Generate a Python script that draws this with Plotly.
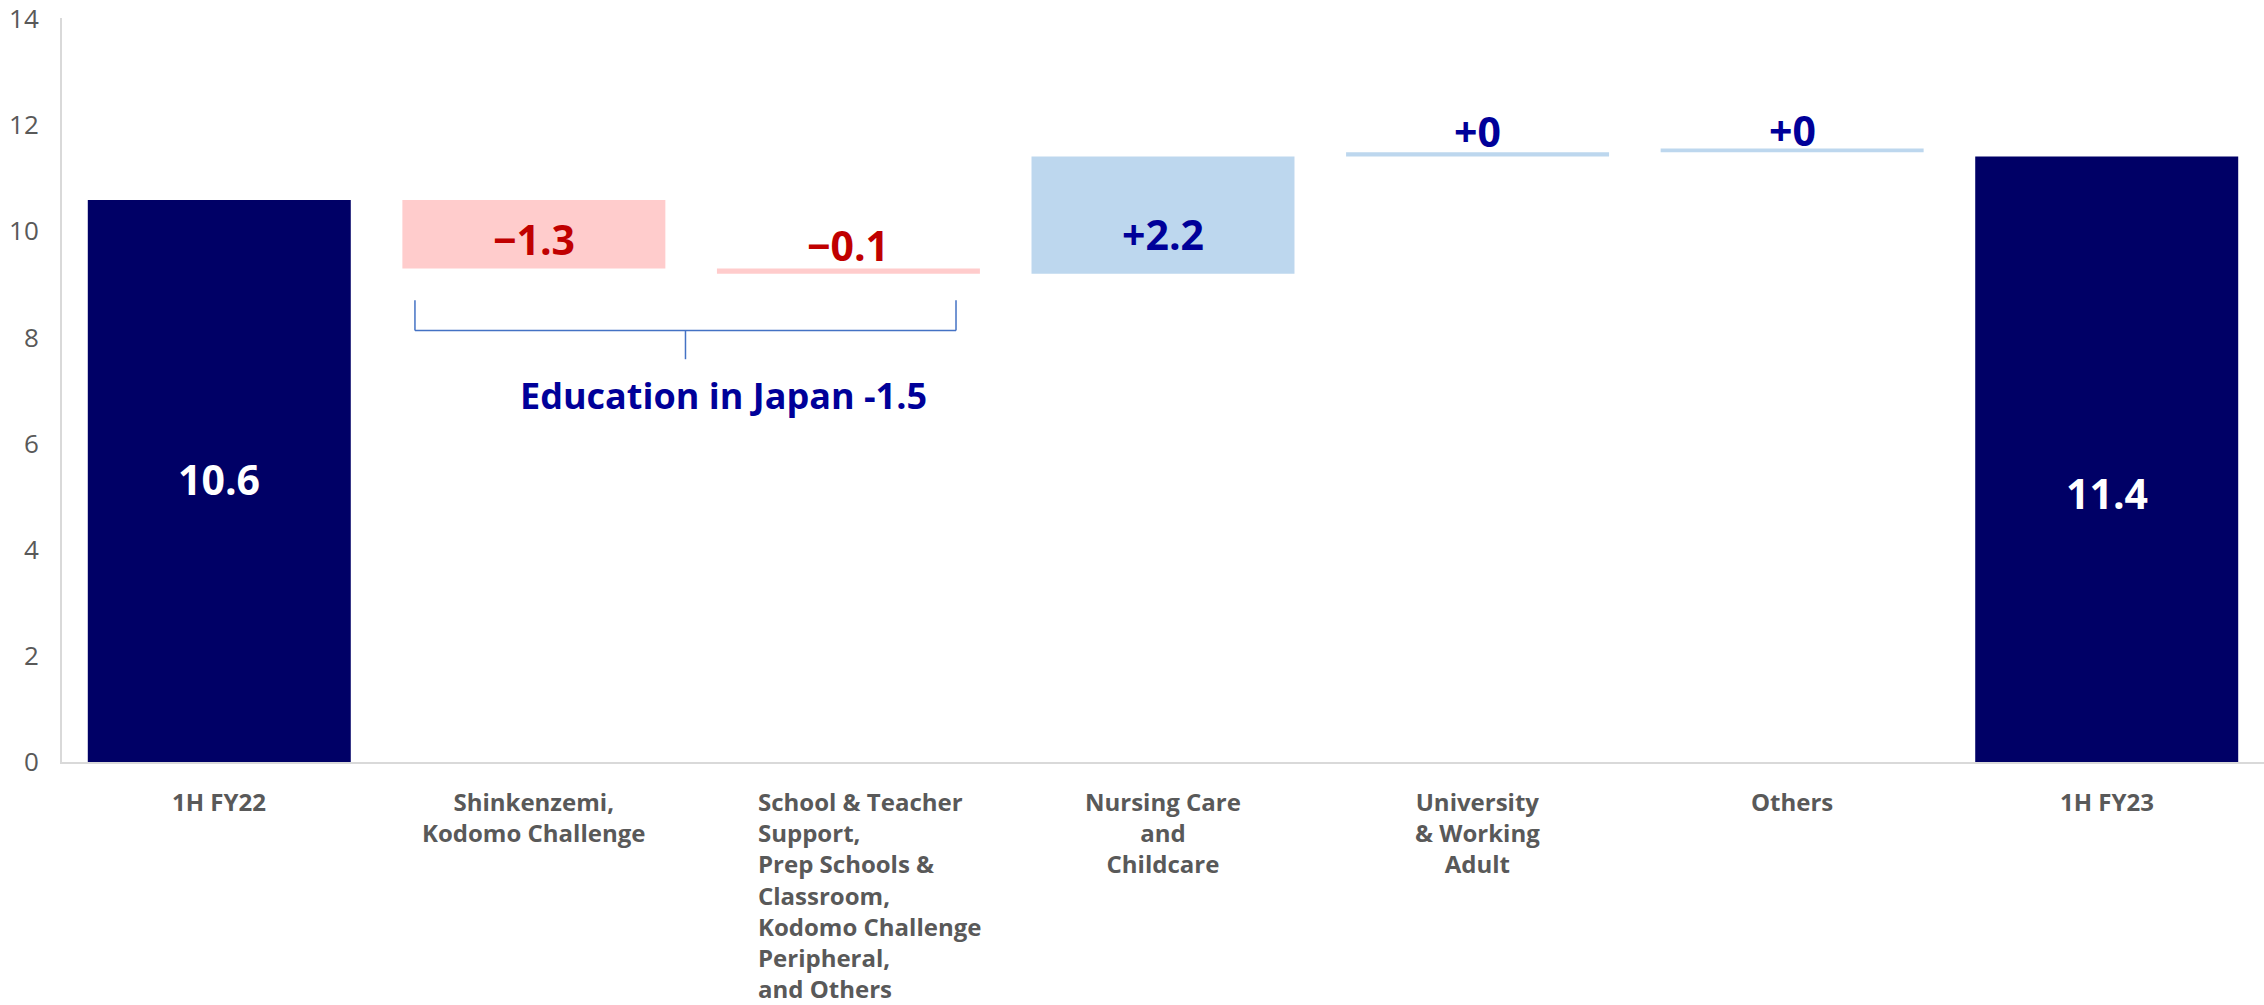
import plotly.graph_objects as go

categories = ["1H FY22", "Shinkenzemi, Kodomo Challenge",
              "School & Teacher Support, Prep Schools & Classroom, Kodomo Challenge Peripheral, and Others",
              "Nursing Care and Childcare", "University & Working Adult", "Others", "1H FY23"]
tick_labels = ["1H FY22", "Shinkenzemi,<br>Kodomo Challenge",
               "School & Teacher<br>Support,<br>Prep Schools &<br>Classroom,<br>Kodomo Challenge<br>Peripheral,<br>and Others",
               "Nursing Care<br>and<br>Childcare", "University<br>& Working<br>Adult", "Others", "1H FY23"]
measures = ["absolute", "relative", "relative", "relative", "relative", "relative", "absolute"]
values = [10.59, -1.29, -0.10, 2.21, 0.08, 0.07, 11.41]
value_labels = ["10.6", "\u22121.3", "\u22120.1", "+2.2", "+0", "+0", "11.4"]
y_ticks = [0, 2, 4, 6, 8, 10, 12, 14]
group_label = "Education in Japan -1.5"

NAVY = "#000066"
RED_TXT = "#C00000"
BLUE_TXT = "#000099"
FONT = "Open Sans"

# styling of value labels (placement kind, pixel nudge, colour)
label_place = ["inside", "inside", "above", "inside", "above", "above", "inside"]
label_nudge = [2, -5, 23, -19, 21, 19, -34]
label_col = ["white", RED_TXT, RED_TXT, BLUE_TXT, BLUE_TXT, BLUE_TXT, "white"]

fig = go.Figure(go.Waterfall(
    x=categories, y=values, measure=measures,
    cliponaxis=False, hoverinfo="skip",
    increasing=dict(marker=dict(color="#BDD7EE")),
    decreasing=dict(marker=dict(color="#FFCCCC")),
    totals=dict(marker=dict(color=NAVY)),
    connector=dict(visible=False),
))

annotations = []
# value labels derived from the waterfall's running totals
running = 0.0
for i, (c, m, v) in enumerate(zip(categories, measures, values)):
    if m == "absolute":
        lo, hi = 0.0, v
        running = v
    else:
        start, running = running, running + v
        lo, hi = min(start, running), max(start, running)
    y_pos = (lo + hi) / 2 if label_place[i] == "inside" else hi
    annotations.append(dict(x=c, y=y_pos, xref="x", yref="y", text=value_labels[i],
                            showarrow=False, xanchor="center", yanchor="middle",
                            yshift=label_nudge[i],
                            font=dict(family=FONT, size=41, color=label_col[i], weight="bold")))

# category labels
for i, (c, lab) in enumerate(zip(categories, tick_labels)):
    if i == 2:
        annotations.append(dict(x=c, y=0, xref="x", yref="paper", text=lab, showarrow=False,
                                xanchor="left", yanchor="top", align="left", xshift=-92, yshift=-21,
                                font=dict(family=FONT, size=24, color="#595959", weight="bold")))
    else:
        annotations.append(dict(x=c, y=0, xref="x", yref="paper", text=lab, showarrow=False,
                                xanchor="center", yanchor="top", align="center", yshift=-21,
                                font=dict(family=FONT, size=24, color="#595959", weight="bold")))
# group bracket label
annotations.append(dict(x=1.604, y=6.91, xref="x", yref="y", text=group_label, showarrow=False,
                        xanchor="center", yanchor="middle",
                        font=dict(family=FONT, size=36, color=BLUE_TXT, weight="bold")))

bk = dict(color="#4472C4", width=1.5)
shapes = [
    dict(type="line", xref="x", yref="y", x0=0.622, x1=0.622, y0=8.70, y1=8.13, line=bk),
    dict(type="line", xref="x", yref="y", x0=0.622, x1=2.342, y0=8.13, y1=8.13, line=bk),
    dict(type="line", xref="x", yref="y", x0=2.342, x1=2.342, y0=8.70, y1=8.13, line=bk),
    dict(type="line", xref="x", yref="y", x0=1.482, x1=1.482, y0=8.13, y1=7.59, line=bk),
]

fig.update_layout(
    width=2264, height=1005,
    margin=dict(l=62, r=0, t=15, b=243),
    paper_bgcolor="white", plot_bgcolor="white",
    waterfallgap=0.164, showlegend=False,
    annotations=annotations, shapes=shapes,
    xaxis=dict(showticklabels=False, showgrid=False, showline=True, linecolor="#D9D9D9",
               linewidth=2, zeroline=False),
    yaxis=dict(range=[0, 14.02], tickmode="array", tickvals=y_ticks,
               showgrid=False, zeroline=False, showline=True,
               linecolor="#D9D9D9", linewidth=2, ticks="", ticklabelstandoff=16,
               ticklabeloverflow="allow",
               tickfont=dict(family=FONT, size=26, color="#595959")),
)

fig.write_html("out.html", config={"displayModeBar": False},
               post_script="document.body.style.margin='0px';")
